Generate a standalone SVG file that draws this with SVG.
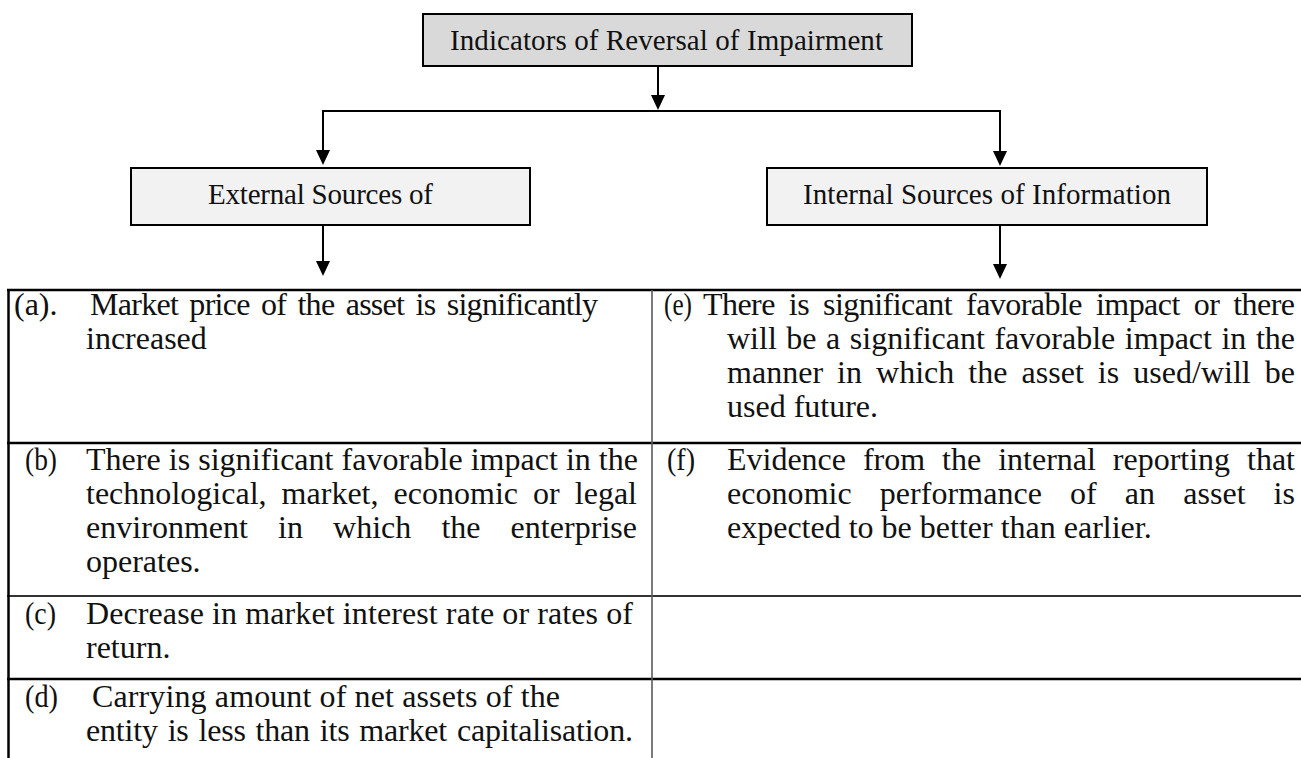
<svg xmlns="http://www.w3.org/2000/svg" width="1301" height="758" viewBox="0 0 1301 758">
  <defs>
    <marker id="arrowhead" markerUnits="userSpaceOnUse" markerWidth="16" markerHeight="16" refX="0" refY="7" orient="auto">
      <path d="M0,0 L15,7 L0,14 Z" fill="#000"/>
    </marker>
    <style>
      .title-box { fill: #d9d9d9; stroke: #000; stroke-width: 2; }
      .source-box { fill: #f2f2f2; stroke: #000; stroke-width: 2; }
      .connector { stroke: #000; stroke-width: 2; fill: none; }
      .arrow { stroke: #000; stroke-width: 2; fill: none; marker-end: url(#arrowhead); }
      .rule { stroke: #000; stroke-width: 2.5; }
      .rule-thin { stroke: #333; stroke-width: 2; }
      .divider { stroke: #5a5a5a; stroke-width: 1.6; }
      text { font-family: "Liberation Serif", "Times New Roman", serif; font-size: 32px; fill: #111; }
      .box-label { font-size: 29px; }
    </style>
  </defs>

  <rect width="1301" height="758" fill="#fff"/>

  <!-- heading -->
  <g id="node-indicators">
    <rect class="title-box" x="423" y="14" width="489" height="52"/>
    <text class="box-label" x="450" y="50" textLength="433" lengthAdjust="spacing">Indicators of Reversal of Impairment</text>
  </g>

  <!-- branch boxes -->
  <g id="node-external">
    <rect class="source-box" x="131" y="168" width="399" height="57"/>
    <text class="box-label" x="208" y="204" textLength="225" lengthAdjust="spacing">External Sources of</text>
  </g>
  <g id="node-internal">
    <rect class="source-box" x="767" y="168" width="440" height="57"/>
    <text class="box-label" x="803" y="204" textLength="368" lengthAdjust="spacing">Internal Sources of Information</text>
  </g>

  <!-- connectors -->
  <g id="connectors">
    <line class="arrow" x1="658" y1="66" x2="658" y2="95"/>
    <line class="connector" x1="322" y1="111" x2="1001" y2="111"/>
    <line class="arrow" x1="323" y1="110" x2="323" y2="150"/>
    <line class="arrow" x1="1000" y1="110" x2="1000" y2="151"/>
    <line class="arrow" x1="323" y1="225" x2="323" y2="261"/>
    <line class="arrow" x1="1000" y1="225" x2="1000" y2="264"/>
  </g>

  <!-- table grid -->
  <g id="table-grid">
    <line class="rule" x1="7" y1="290" x2="1301" y2="290"/>
    <line class="rule" x1="7" y1="443" x2="1301" y2="443"/>
    <line class="rule-thin" x1="7" y1="596" x2="1301" y2="596"/>
    <line class="rule" x1="7" y1="679" x2="1301" y2="679"/>
    <line class="rule" x1="8.5" y1="289" x2="8.5" y2="758"/>
    <line class="divider" x1="652" y1="290" x2="652" y2="758"/>
  </g>

  <!-- external indicators -->
  <g id="node-a">
    <text x="14" y="315">(a).</text>
    <text x="90" y="315" word-spacing="4" textLength="508" lengthAdjust="spacing">Market price of the asset is significantly</text>
    <text x="86" y="349">increased</text>
  </g>
  <g id="node-b">
    <text x="25" y="470" textLength="32" lengthAdjust="spacingAndGlyphs">(b)</text>
    <text x="86" y="470" textLength="552" lengthAdjust="spacing">There is significant favorable impact in the</text>
    <text x="86" y="504" word-spacing="7" textLength="551" lengthAdjust="spacing">technological, market, economic or legal</text>
    <text x="86" y="538" word-spacing="22" textLength="551" lengthAdjust="spacing">environment in which the enterprise</text>
    <text x="86" y="572">operates.</text>
  </g>
  <g id="node-c">
    <text x="25" y="624" textLength="31" lengthAdjust="spacingAndGlyphs">(c)</text>
    <text x="86" y="624" textLength="547" lengthAdjust="spacing">Decrease in market interest rate or rates of</text>
    <text x="86" y="658">return.</text>
  </g>
  <g id="node-d">
    <text x="25" y="707" textLength="33" lengthAdjust="spacingAndGlyphs">(d)</text>
    <text x="92" y="707" textLength="468" lengthAdjust="spacing">Carrying amount of net assets of the</text>
    <text x="86" y="741" word-spacing="2" textLength="547" lengthAdjust="spacing">entity is less than its market capitalisation.</text>
  </g>

  <!-- internal indicators -->
  <g id="node-e">
    <text x="664" y="315" textLength="28" lengthAdjust="spacingAndGlyphs">(e)</text>
    <text x="703" y="315" word-spacing="6.5" textLength="592" lengthAdjust="spacing">There is significant favorable impact or there</text>
    <text x="727" y="349" word-spacing="1.5" textLength="568" lengthAdjust="spacing">will be a significant favorable impact in the</text>
    <text x="727" y="383" word-spacing="6" textLength="568" lengthAdjust="spacing">manner in which the asset is used/will be</text>
    <text x="727" y="417">used future.</text>
  </g>
  <g id="node-f">
    <text x="667" y="470" textLength="28" lengthAdjust="spacingAndGlyphs">(f)</text>
    <text x="727" y="470" word-spacing="9" textLength="568" lengthAdjust="spacing">Evidence from the internal reporting that</text>
    <text x="727" y="504" word-spacing="20" textLength="568" lengthAdjust="spacing">economic performance of an asset is</text>
    <text x="727" y="538">expected to be better than earlier.</text>
  </g>
</svg>
